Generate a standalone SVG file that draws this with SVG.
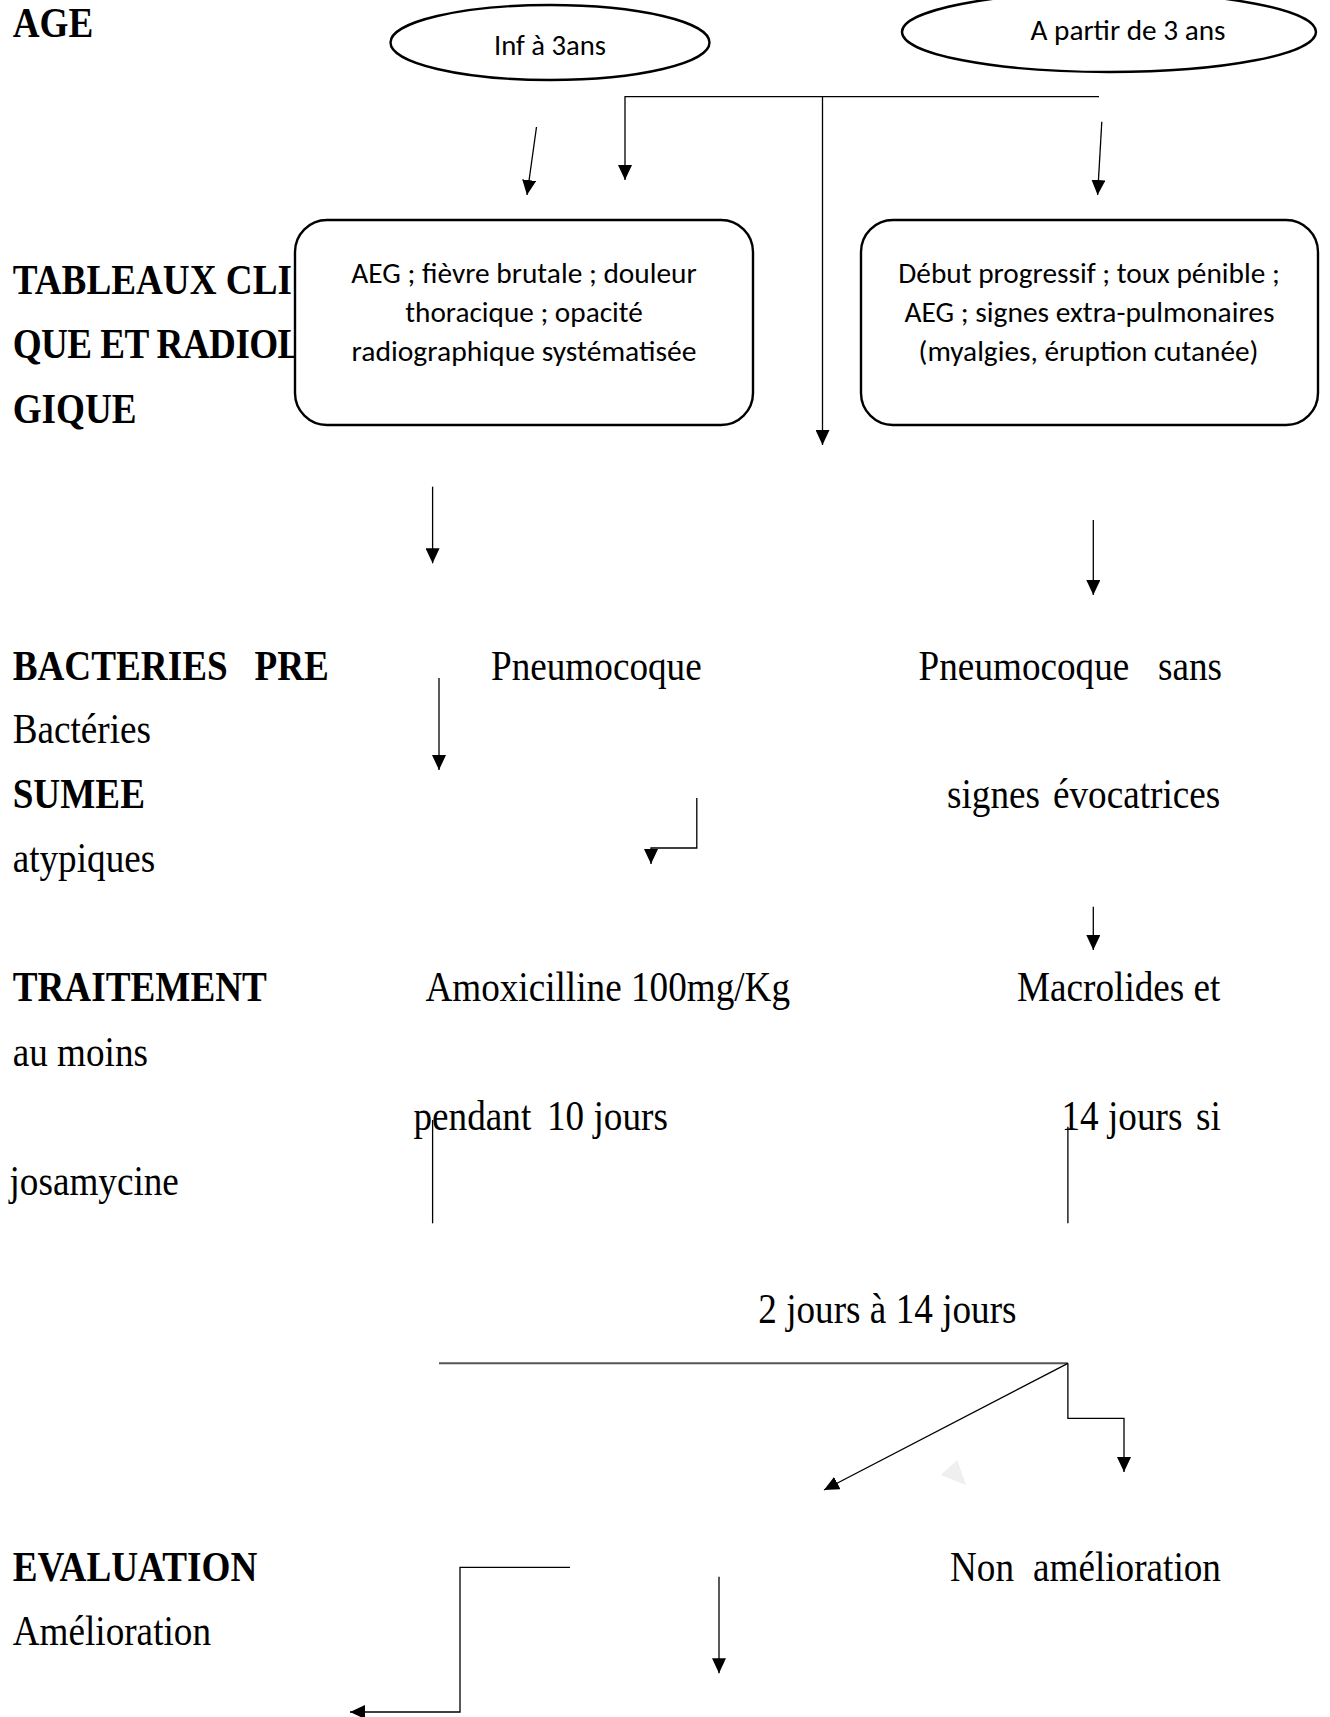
<svg xmlns="http://www.w3.org/2000/svg" width="1330" height="1717" viewBox="0 0 1330 1717">
<defs>
<style>
.h{font-family:"Liberation Serif","Times New Roman",serif;font-size:37.2px;font-weight:bold;fill:#000}
.t{font-family:"Liberation Serif","Times New Roman",serif;font-size:37.2px;fill:#000}
.s{font-family:Carlito,Calibri,"Open Sans","Noto Sans",sans-serif;font-size:29px;fill:#000}
.ln{fill:none;stroke:#000;stroke-width:1.3}
.shape{fill:#fff;stroke:#000;stroke-width:2.4}
</style>
<marker id="ah" markerUnits="userSpaceOnUse" markerWidth="16" markerHeight="14" refX="15" refY="7" orient="auto">
<path d="M0,0 L15,7 L0,14 z" fill="#000"/>
</marker>
</defs>
<rect width="1330" height="1717" fill="#fff"/>

<g id="labels">
<text class="h" x="12.7" y="37" transform="matrix(1 0 0 1.12 0 -4.44)">AGE</text>
<text class="h" x="12.7" y="294" transform="matrix(1 0 0 1.12 0 -35.28)">TABLEAUX CLI</text>
<text class="h" x="12.7" y="358.5" letter-spacing="-0.6" transform="matrix(1 0 0 1.12 0 -43.02)">QUE ET RADIOL</text>
<text class="h" x="12.7" y="423" transform="matrix(1 0 0 1.12 0 -50.76)">GIQUE</text>
<text class="h" x="12.7" y="680" transform="matrix(1 0 0 1.12 0 -81.6)"><tspan>BACTERIES</tspan><tspan x="254.5">PRE</tspan></text>
<text class="t" x="12.7" y="743" transform="matrix(1 0 0 1.12 0 -89.16)">Bactéries</text>
<text class="h" x="12.7" y="808" transform="matrix(1 0 0 1.12 0 -96.96)">SUMEE</text>
<text class="t" x="12.7" y="872" transform="matrix(1 0 0 1.12 0 -104.64)">atypiques</text>
<text class="h" x="12.7" y="1001.5" transform="matrix(1 0 0 1.12 0 -120.18)">TRAITEMENT</text>
<text class="t" x="12.7" y="1066.5" transform="matrix(1 0 0 1.12 0 -127.98)">au moins</text>
<text class="t" x="9.5" y="1195" transform="matrix(1 0 0 1.12 0 -143.4)">josamycine</text>
<text class="h" x="12.7" y="1581.5" transform="matrix(1 0 0 1.12 0 -189.78)">EVALUATION</text>
<text class="t" x="12.7" y="1645" transform="matrix(1 0 0 1.12 0 -197.4)">Amélioration</text>
</g>

<g id="node-inf3">
<ellipse class="shape" cx="550" cy="42.5" rx="159.5" ry="37.5"/>
<text class="s" x="550" y="55" text-anchor="middle" textLength="112" lengthAdjust="spacingAndGlyphs">Inf à 3ans</text>
</g>

<g id="node-apartir3">
<ellipse class="shape" cx="1109" cy="32" rx="207" ry="40"/>
<text class="s" x="1128" y="40" text-anchor="middle" textLength="195" lengthAdjust="spacingAndGlyphs">A partir de 3 ans</text>
</g>

<g id="node-box-left">
<rect class="shape" x="295" y="220" width="458" height="205" rx="32" ry="32"/>
<text class="s" x="524" y="282.5" text-anchor="middle" textLength="345.5" lengthAdjust="spacingAndGlyphs">AEG ; fièvre brutale ; douleur</text>
<text class="s" x="524" y="321.5" text-anchor="middle" textLength="237.5" lengthAdjust="spacingAndGlyphs">thoracique ; opacité</text>
<text class="s" x="524" y="360.5" text-anchor="middle" textLength="345" lengthAdjust="spacingAndGlyphs">radiographique systématisée</text>
</g>

<g id="node-box-right">
<rect class="shape" x="861" y="220" width="457" height="205" rx="32" ry="32"/>
<text class="s" x="1089" y="282.5" text-anchor="middle" textLength="381.5" lengthAdjust="spacingAndGlyphs">Début progressif ; toux pénible ;</text>
<text class="s" x="1089.5" y="321.5" text-anchor="middle" textLength="370" lengthAdjust="spacingAndGlyphs">AEG ; signes extra-pulmonaires</text>
<text class="s" x="1088.5" y="360.5" text-anchor="middle" textLength="340" lengthAdjust="spacingAndGlyphs">(myalgies, éruption cutanée)</text>
</g>

<g id="node-pneumo">
<text class="t" x="491" y="680" transform="matrix(1 0 0 1.12 0 -81.6)">Pneumocoque</text>
</g>
<g id="node-pneumo-sans">
<text class="t" x="918.6" y="680" transform="matrix(1 0 0 1.12 0 -81.6)"><tspan>Pneumocoque</tspan><tspan x="1158">sans</tspan></text>
<text class="t" x="947" y="808" transform="matrix(1 0 0 1.12 0 -96.96)"><tspan>signes</tspan><tspan x="1053">évocatrices</tspan></text>
</g>
<g id="node-amox">
<text class="t" x="425.4" y="1001.5" transform="matrix(1 0 0 1.12 0 -120.18)">Amoxicilline 100mg/Kg</text>
<text class="t" x="413.5" y="1130" transform="matrix(1 0 0 1.12 0 -135.6)"><tspan>pendant</tspan><tspan x="547">10</tspan><tspan x="593.5">jours</tspan></text>
</g>
<g id="node-macro">
<text class="t" x="1017" y="1001.5" transform="matrix(1 0 0 1.12 0 -120.18)"><tspan>Macrolides</tspan><tspan x="1193.5">et</tspan></text>
<text class="t" x="1061.5" y="1130" transform="matrix(1 0 0 1.12 0 -135.6)"><tspan>14</tspan><tspan x="1108">jours</tspan><tspan x="1196">si</tspan></text>
</g>
<g id="node-delay">
<text class="t" x="758.3" y="1323" transform="matrix(1 0 0 1.12 0 -158.76)">2 jours à 14 jours</text>
</g>
<g id="node-non-amel">
<text class="t" x="950" y="1581.5" transform="matrix(1 0 0 1.12 0 -189.78)"><tspan>Non</tspan><tspan x="1033">amélioration</tspan></text>
</g>

<g id="connectors">
<path class="ln" d="M536.5,127 L527,195" marker-end="url(#ah)"/>
<path class="ln" d="M1099,96.7 H625 V180" marker-end="url(#ah)"/>
<path class="ln" d="M822.5,96.7 V445" marker-end="url(#ah)"/>
<path class="ln" d="M1101.8,121.7 L1097.6,195" marker-end="url(#ah)"/>
<path class="ln" d="M432.6,486.7 V563.3" marker-end="url(#ah)"/>
<path class="ln" d="M1093.3,520 V595" marker-end="url(#ah)"/>
<path class="ln" d="M439,678 V770" marker-end="url(#ah)"/>
<path class="ln" d="M696.8,798 V848 H651 V864" marker-end="url(#ah)"/>
<path class="ln" d="M1093.3,906.7 V950" marker-end="url(#ah)"/>
<path class="ln" d="M432.6,1120 V1223.3"/>
<path class="ln" d="M1067.9,1126.7 V1223.3"/>
<path d="M439,1363.3 H1067.9" fill="none" stroke="#555" stroke-width="2"/>
<path class="ln" d="M1067.9,1363.3 L824,1490" marker-end="url(#ah)"/>
<path class="ln" d="M1067.9,1363.3 V1418.3 H1124 V1472" marker-end="url(#ah)"/>
<path class="ln" d="M570,1567.3 H460 V1712 H350" marker-end="url(#ah)"/>
<path class="ln" d="M719,1576.7 V1673.3" marker-end="url(#ah)"/>
<polygon points="957.2,1460 940.7,1475 966,1485" fill="#efefef"/>
</g>
</svg>
